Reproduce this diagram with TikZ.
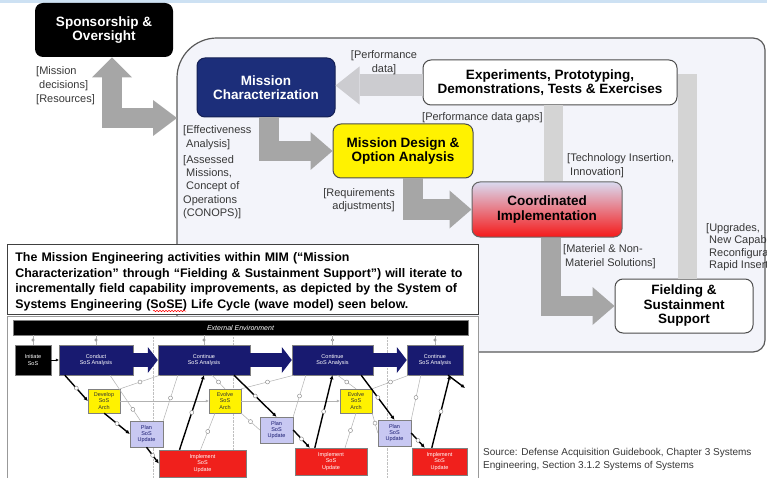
\documentclass[tikz,border=0pt]{standalone}
\usepackage{fontspec}
\setmainfont{Liberation Sans}
\usetikzlibrary{arrows.meta,decorations.pathmorphing}

\definecolor{mcblue}{RGB}{28,46,122}
\definecolor{wblue}{RGB}{24,26,112}
\definecolor{ciblue}{RGB}{218,218,240}
\definecolor{cipink}{RGB}{238,175,190}
\definecolor{cired}{RGB}{245,25,25}
\definecolor{planblue}{RGB}{200,200,242}
\definecolor{wred}{RGB}{240,32,28}
\definecolor{fatgray}{RGB}{166,166,166}
\definecolor{arrowlight}{RGB}{204,204,208}
\definecolor{barlight}{RGB}{212,212,212}
\definecolor{meback}{RGB}{243,244,250}
\definecolor{labelgray}{RGB}{55,55,55}
\definecolor{topblue}{RGB}{205,225,243}

\begin{document}
\begin{tikzpicture}[x=1pt,y=-1pt,
	box/.style={rounded corners=8pt,inner sep=0pt,align=center,line width=1pt,
		font=\fontsize{13.5}{14.5}\selectfont\bfseries},
	lbl/.style={inner sep=0pt,align=left,text=labelgray,
		font=\fontsize{11}{14}\selectfont},
	fatarrow/.style={draw=fatgray,line width=20pt,
		-{Triangle[length=22pt,width=38pt,line width=0pt]}},
	lightarrow/.style={draw=arrowlight,line width=22pt,
		-{Triangle[length=24pt,width=38pt,line width=0pt]}},
	lightbar/.style={draw=barlight,line width=19pt},
	wbox/.style={inner sep=0pt,align=center,draw=gray,line width=.4pt,
		font=\fontsize{5.5}{6.3}\selectfont},
	wnavy/.style={wbox,fill=wblue,text=white,minimum height=30pt},
	warch/.style={wbox,fill=yellow,text=black!80,minimum width=32pt,minimum height=24pt},
	wplan/.style={wbox,fill=planblue,text=wblue,minimum width=33pt,minimum height=26pt},
	wimpl/.style={wbox,fill=wred,text=white,minimum height=27pt},
	wfat/.style={draw=wblue,line width=14pt,
		-{Triangle[length=10pt,width=26pt,line width=0pt]}},
	wflow/.style={line width=1.4pt,-{Latex[length=4pt,width=4pt]}},
	wthin/.style={draw=gray!60,line width=.5pt},
	wdotted/.style={draw=gray!50,line width=.4pt,densely dotted},
	ring/.style={circle,draw=gray,fill=white,line width=.4pt,inner sep=0pt,minimum size=4pt}
]

\useasboundingbox (0,0) rectangle (767,478);
\clip (0,0) rectangle (767,478);
\fill[topblue] (0,0) rectangle (767,3);

% mission engineering frame
\draw[draw=black!65,line width=1.2pt,fill=meback]
	(177,352) -- (177,78) arc[start angle=180,end angle=90,radius=40pt]
	-- (753,38) arc[start angle=90,end angle=0,radius=12pt]
	-- (765,340) arc[start angle=0,end angle=-90,radius=12pt] -- cycle;
\coordinate (mein) at (177,118);

\node[box,fill=black,text=white,minimum width=138pt,minimum height=54pt] (spons) at (104,30) {Sponsorship \&\\Oversight};
\node[box,fill=mcblue,draw=mcblue!70!black,text=white,minimum width=138pt,minimum height=59pt] (mc) at (266,87.5) {Mission\\Characterization};
\node[box,fill=yellow,draw=black!70,minimum width=140pt,minimum height=54pt] (mdoa) at (403,151) {Mission Design \&\\Option Analysis};
\node[box,fill=white,draw=black!70,minimum width=254pt,minimum height=45pt] (exp) at (550,82.5) {Experiments, Prototyping,\\Demonstrations, Tests \& Exercises};
\node[box,top color=ciblue,middle color=cipink,bottom color=cired,draw=black!60,minimum width=150pt,minimum height=55pt] (ci) at (547,209.5) {Coordinated\\Implementation};
\node[box,fill=white,draw=black!70,minimum width=138pt,minimum height=54pt] (field) at (684,306) {Fielding \&\\Sustainment\\Support};

% flows
\draw[fatarrow,{Triangle[length=20pt,width=40pt,line width=0pt]}-{Triangle[length=24pt,width=36pt,line width=0pt]}] ([xshift=8pt]spons.south) |- (mein);
\draw[fatarrow] ([xshift=3pt]mc.south) |- (mdoa.west);
\draw[fatarrow] ([xshift=10pt]mdoa.south) |- (ci.west);
\draw[fatarrow] ([xshift=4pt]ci.south) |- (field.west);
\draw[lightarrow] ([yshift=-3pt]exp.west) -- ([yshift=-3pt]exp.west -| mc.east);
\draw[lightbar] ([xshift=6pt]ci.north) -- ([xshift=6pt]ci.north |- exp.south);
\draw[lightbar] ([xshift=3pt]field.north) -- ([xshift=3pt,yshift=-15pt]field.north |- exp.north);

% labels
\node[lbl,anchor=north west] (lmiss) at (36,66) {[Mission\\\hspace*{3pt}decisions]\\{}[Resources]};
\node[lbl,anchor=north west] (leff) at (183,125) {[Effectiveness\\\hspace*{3pt}Analysis]};
\node[lbl,anchor=north west,font=\fontsize{11}{13.4}\selectfont] (lass) at (183,155) {[Assessed\\\hspace*{3pt}Missions,\\\hspace*{3pt}Concept of\\Operations\\(CONOPS)]};
\node[lbl,anchor=north,align=center] (lperf) at (384,50) {[Performance\\data]};
\node[lbl,anchor=north west] (lgaps) at (422,112) {[Performance data gaps]};
\node[lbl,anchor=north east,align=right,font=\fontsize{11}{13}\selectfont] (lreq) at (395,188) {[Requirements\\adjustments]};
\node[lbl,anchor=north west] (ltech) at (567,153) {[Technology Insertion,\\\hspace*{3pt}Innovation]};
\node[lbl,anchor=north west] (lmat) at (563,244) {[Materiel \& Non-\\\hspace*{2pt}Materiel Solutions]};
\node[lbl,anchor=north west,font=\fontsize{11}{12.5}\selectfont] (lupg) at (706,223) {[Upgrades,\\\hspace*{3pt}New Capabilities,\\\hspace*{3pt}Reconfiguration,\\\hspace*{3pt}Rapid Insertion]};

% note on the wave model
\node[draw=black!75,line width=.8pt,fill=white,anchor=north west,minimum height=70pt,
	inner xsep=8pt,inner ysep=0pt,text width=455pt,align=left,
	font=\fontsize{12.4}{15.5}\selectfont\bfseries] (note) at (7,244)
	{\rule{0pt}{14pt}The Mission Engineering activities within MIM (“Mission\\
	Characterization” through “Fielding \& Sustainment Support”) will iterate to\\
	incrementally field capability improvements, as depicted by the System of\\
	Systems Engineering (SoSE) Life Cycle (wave model) seen below.};
\draw[red,line width=.5pt,decorate,decoration={snake,amplitude=.7pt,segment length=3pt}] (153,311) -- (186,311);

% SoSE wave model
\draw[draw=gray!80,fill=white,line width=.8pt] (7,316) rectangle (478,482);
\foreach \x in {153,233,387}
	\draw[wdotted] (\x,337) -- (\x,478);

\node[wbox,fill=black,text=white,font=\fontsize{7}{8}\selectfont\itshape,minimum width=455pt,minimum height=15pt] (env) at (240.5,327.5) {External Environment};
\node[wbox,fill=black,text=white,minimum width=36pt,minimum height=30pt] (init) at (33,360) {Initiate\\SoS};
\node[wnavy,minimum width=74pt] (cond) at (96,360) {Conduct\\SoS Analysis};
\node[wnavy,minimum width=92pt] (cont1) at (204,360) {Continue\\SoS Analysis};
\node[wnavy,minimum width=81pt] (cont2) at (332.5,360) {Continue\\SoS Analysis};
\node[wnavy,minimum width=56pt] (cont3) at (435,360) {Continue\\SoS Analysis};
\node[warch] (dev) at (104,401) {Develop\\SoS\\Arch};
\node[warch] (evo1) at (225,401) {Evolve\\SoS\\Arch};
\node[warch] (evo2) at (356,401) {Evolve\\SoS\\Arch};
\node[wplan] (plan1) at (146.5,434) {Plan\\SoS\\Update};
\node[wplan] (plan2) at (276.5,430) {Plan\\SoS\\Update};
\node[wplan] (plan3) at (394.5,433) {Plan\\SoS\\Update};
\node[wimpl,minimum width=87pt] (impl1) at (202.5,463.5) {Implement\\SoS\\Update};
\node[wimpl,minimum width=72pt] (impl2) at (331,461.5) {Implement\\SoS\\Update};
\node[wimpl,minimum width=55pt] (impl3) at (439.5,461.5) {Implement\\SoS\\Update};
\coordinate (wout) at (465,388);

\foreach \b in {init,cond,cont1,cont2,cont3}
	\draw[wthin] (\b.north |- env.south) -- (\b.north) node[midway,ring,minimum size=2.5pt]{};

\draw[wthin] ([xshift=14pt]cond.south) -- ([xshift=-6pt]plan1.north) node[ring,pos=.75]{};
\draw[wthin] (dev.north east) -- ([xshift=2pt]cont1.south west) node[ring,midway]{};
\draw[wthin] (plan1.north east) -- ([xshift=20pt]cont1.south west) node[ring,midway]{};
\draw[wthin] ([xshift=-2pt]impl1.north) -- ([xshift=-10pt]evo1.south) node[ring,midway]{};
\draw[wthin] ([xshift=8pt]cont1.south) -- (evo1.north) node[ring,midway]{};
\draw[wthin] (evo1.south east) -- (plan2.west) node[ring,midway]{};
\draw[wthin] (evo1.north east) -- ([xshift=2pt]cont2.south west) node[ring,midway]{};
\draw[wthin] (plan2.north east) -- ([xshift=14pt]cont2.south west) node[ring,midway]{};
\draw[wthin] ([xshift=14pt]impl2.north) -- (evo2.south) node[ring,midway]{};
\draw[wthin] ([xshift=5pt]cont2.south) -- (evo2.north) node[ring,midway]{};
\draw[wthin] (evo2.south east) -- (plan3.west) node[ring,midway]{};
\draw[wthin] (evo2.north east) -- ([xshift=2pt]cont3.south west) node[ring,midway]{};
\draw[wthin] (plan3.north east) -- ([xshift=14pt]cont3.south west) node[ring,midway]{};
\draw[wthin,-{Latex[length=3pt,width=3pt]}] (dev.east) -- (evo1.west);
\draw[wthin,-{Latex[length=3pt,width=3pt]}] (evo1.east) -- (evo2.west);

\draw[-{Latex[length=3pt,width=3pt]}] (init) -- (cond);
\draw[wfat] (cond) -- (cont1);
\draw[wfat] (cont1) -- (cont2);
\draw[wfat] (cont2) -- (cont3);

\draw[wflow] ([xshift=6pt]cond.south west) -- (dev.west) node[ring,midway]{};
\draw[wflow] ([xshift=-16pt]dev.south east) -- (plan1.west) node[ring,midway]{};
\draw[wflow] (plan1.south) -- (impl1.west) node[ring,midway]{};
\draw[wflow] ([xshift=-23pt]impl1.north) -- (cont1.south) node[ring,midway]{};
\draw[wflow] ([xshift=30pt]cont1.south) -- (plan2.north) node[ring,midway]{};
\draw[wflow] (plan2.east) -- ([xshift=15pt]impl2.north west) node[ring,midway]{};
\draw[wflow] ([xshift=20pt]impl2.north west) -- (cont2.south) node[ring,midway]{};
\draw[wflow] ([xshift=-12pt]cont2.south east) -- (plan3.north) node[ring,midway]{};
\draw[wflow] (plan3.east) -- ([xshift=13pt]impl3.north west) node[ring,midway]{};
\draw[wflow] ([xshift=20pt]impl3.north west) -- ([xshift=15pt]cont3.south) node[ring,midway]{};
\draw[wflow] ([xshift=13pt]cont3.south) -- (wout);

\node[lbl,anchor=north west,font=\fontsize{10}{13}\selectfont] (src) at (483,448) {Source: Defense Acquisition Guidebook, Chapter 3 Systems\\Engineering, Section 3.1.2 Systems of Systems};

\end{tikzpicture}
\end{document}
